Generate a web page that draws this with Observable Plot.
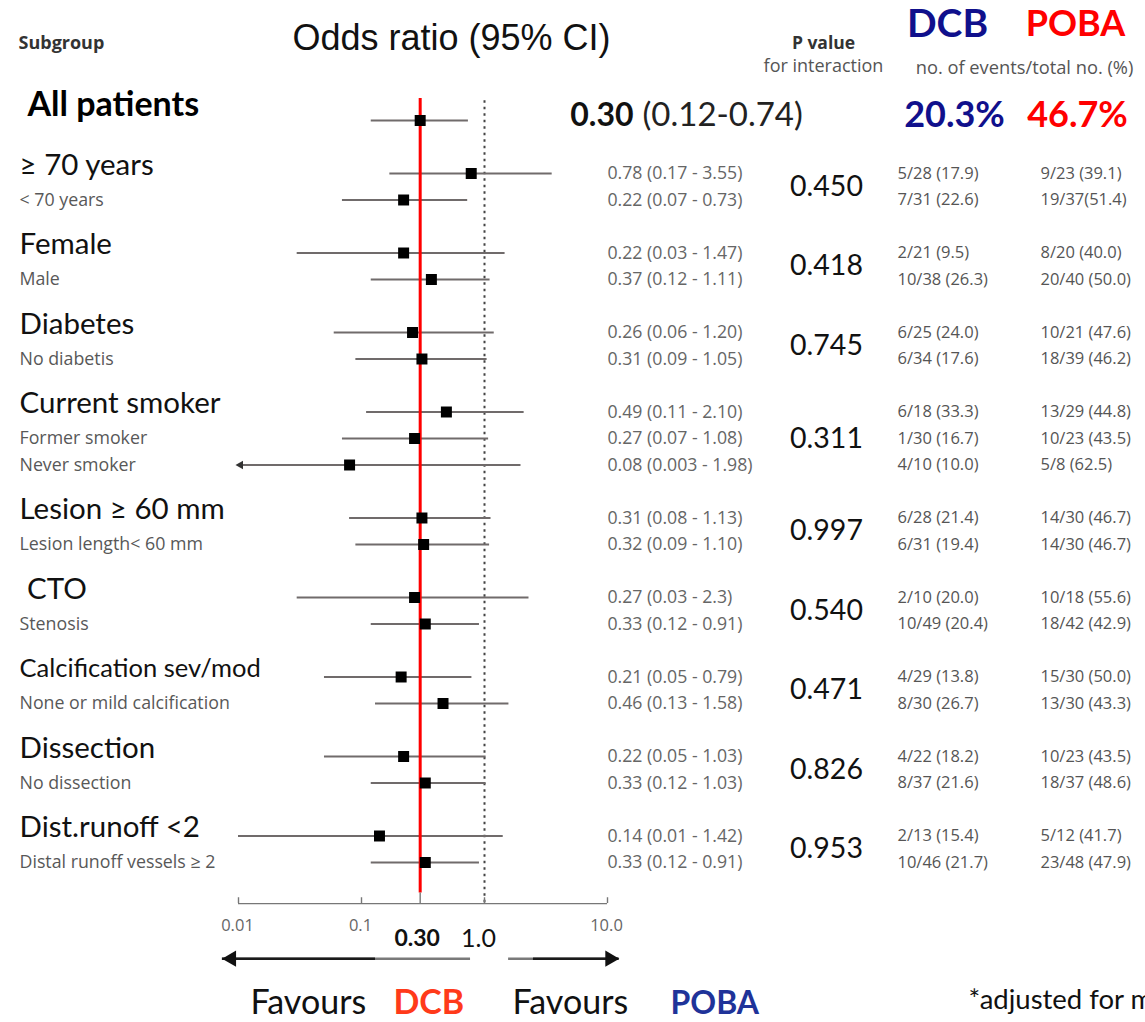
<!DOCTYPE html>
<html>
<head>
<meta charset="utf-8">
<script src="https://cdn.jsdelivr.net/npm/d3@7"></script>
<script src="https://cdn.jsdelivr.net/npm/@observablehq/plot@0.6"></script>
<style>
  body { margin: 0; background: #fff; }
  svg { display: block; }
</style>
</head>
<body>
<div id="chart"></div>
<script>
// Pooled estimate (all patients)
const overallLabel = "All patients";
const overallOR = ["0.30", "0.12", "0.74"]; // estimate, lower, upper
const overallRates = ["20.3%", "46.7%"];    // DCB, POBA

// Subgroups, in display order; groupSizes splits them into interaction groups
const subgroupLabels = [
  "≥ 70 years", "< 70 years",
  "Female", "Male",
  "Diabetes", "No diabetis",
  "Current smoker", "Former smoker", "Never smoker",
  "Lesion ≥ 60 mm", "Lesion length< 60 mm",
  " CTO", "Stenosis",
  "Calcification sev/mod", "None or mild calcification",
  "Dissection", "No dissection",
  "Dist.runoff <2", "Distal runoff vessels ≥ 2"
];
const groupSizes = [2, 2, 2, 3, 2, 2, 2, 2, 2];
const pInteraction = ["0.450", "0.418", "0.745", "0.311", "0.997", "0.540", "0.471", "0.826", "0.953"];

const oddsRatio = ["0.78", "0.22", "0.22", "0.37", "0.26", "0.31", "0.49", "0.27", "0.08", "0.31", "0.32", "0.27", "0.33", "0.21", "0.46", "0.22", "0.33", "0.14", "0.33"];
const ciLow     = ["0.17", "0.07", "0.03", "0.12", "0.06", "0.09", "0.11", "0.07", "0.003", "0.08", "0.09", "0.03", "0.12", "0.05", "0.13", "0.05", "0.12", "0.01", "0.12"];
const ciHigh    = ["3.55", "0.73", "1.47", "1.11", "1.20", "1.05", "2.10", "1.08", "1.98", "1.13", "1.10", "2.3", "0.91", "0.79", "1.58", "1.03", "1.03", "1.42", "0.91"];

const dcbEvents = ["5/28 (17.9)", "7/31 (22.6)", "2/21 (9.5)", "10/38 (26.3)", "6/25 (24.0)", "6/34 (17.6)", "6/18 (33.3)", "1/30 (16.7)", "4/10 (10.0)", "6/28 (21.4)", "6/31 (19.4)", "2/10 (20.0)", "10/49 (20.4)", "4/29 (13.8)", "8/30 (26.7)", "4/22 (18.2)", "8/37 (21.6)", "2/13 (15.4)", "10/46 (21.7)"];
const pobaEvents = ["9/23 (39.1)", "19/37(51.4)", "8/20 (40.0)", "20/40 (50.0)", "10/21 (47.6)", "18/39 (46.2)", "13/29 (44.8)", "10/23 (43.5)", "5/8 (62.5)", "14/30 (46.7)", "14/30 (46.7)", "10/18 (55.6)", "18/42 (42.9)", "15/30 (50.0)", "13/30 (43.3)", "10/23 (43.5)", "18/37 (48.6)", "5/12 (41.7)", "23/48 (47.9)"];

// Axis
const axisTicks = [0.01, 0.1, 10];
const axisTickLabels = ["0.01", "0.1", "10.0"];
const xDomain = [0.01, 10];
// "Favours" arrows below the axis, on the odds-ratio scale:
// [start, tip, where the darker stroke begins]
const favourArrows = [[0.77, 0.0074, 0.13], [1.57, 12.4, 2.5]];

// ---- build rows: overall on row 0, then groups separated by one blank row
const rows = [];
const pRows = [];
let r = 2, k = 0;
groupSizes.forEach((n, g) => {
  const start = r;
  for (let i = 0; i < n; i++, k++, r++) {
    rows.push({
      label: subgroupLabels[k], lead: i === 0, pos: r,
      orText: `${oddsRatio[k]} (${ciLow[k]} - ${ciHigh[k]})`,
      or: +oddsRatio[k], lo: +ciLow[k], hi: +ciHigh[k],
      dcb: dcbEvents[k], poba: pobaEvents[k]
    });
  }
  pRows.push({p: pInteraction[g], pos: (start + r - 1) / 2});
  r++;
});
const lastPos = r - 2;
const axisPos = lastPos + 1.55;
const arrowPos = axisPos + 2.08;
const overall = {pos: 0, or: +overallOR[0], lo: +overallOR[1], hi: +overallOR[2]};
const estimates = [overall, ...rows];
const clipped = estimates.filter(d => d.lo < xDomain[0]);
const [leftArrow, rightArrow] = favourArrows;

const sans = "Lato, 'Open Sans', sans-serif";
const small = "'Open Sans', 'Noto Sans', sans-serif";
const navy = "#10108c", red = "#ff0000";

// fixed-position annotation text
const note = (text, dx, dy, o = {}) =>
  Plot.text([text], {frameAnchor: "top-left", dx, dy, text: d => d, lineAnchor: "middle", textAnchor: "start", fontFamily: sans, fill: "#111", ...o});

const chart = Plot.plot({
  width: 1145,
  height: 1022,
  margin: 0,
  style: {background: "#fff", overflow: "hidden"},
  x: {type: "log", domain: xDomain, range: [238, 607], axis: null},
  y: {domain: [0, 28], range: [120, 862], axis: null},
  marks: [
    // reference line at OR = 1
    Plot.ruleX([1], {y1: -0.75, y2: axisPos, stroke: "#444", strokeWidth: 2, strokeDasharray: "2.5,4"}),
    // confidence intervals (lower limits below 0.01 end in an arrowhead)
    Plot.ruleY(estimates, {y: "pos", x1: d => Math.max(d.lo, xDomain[0]), x2: "hi", stroke: "#706b6b", strokeWidth: 1.8}),
    Plot.dot(clipped, {x: () => xDomain[0], y: "pos", symbol: "triangle", r: 3.2, rotate: -90, dx: 2, fill: "#333", stroke: "none"}),
    // pooled estimate line
    Plot.ruleX([overall], {x: "or", y1: -0.83, y2: axisPos - 0.4, stroke: red, strokeWidth: 3}),
    // point estimates
    Plot.dot(estimates, {x: "or", y: "pos", symbol: "square", r: 6.2, fill: "#000", stroke: "none"}),

    // x axis
    Plot.ruleY([axisPos], {x1: xDomain[0], x2: xDomain[1], stroke: "#777", strokeWidth: 1.4}),
    Plot.ruleX([...axisTicks, 1], {x: d => d, y1: axisPos - 0.22, y2: axisPos, stroke: "#777", strokeWidth: 1.4}),
    Plot.ruleX([overall], {x: "or", y1: axisPos - 0.4, y2: axisPos, stroke: "#777", strokeWidth: 1.4}),
    Plot.text(axisTicks, {x: d => d, y: axisPos + 0.83, text: (d, i) => axisTickLabels[i], fontSize: 16.5, fill: "#666", fontFamily: small, dx: -1}),
    Plot.text([overall], {x: "or", y: axisPos + 1.32, text: () => overallOR[0], fontSize: 23, fontWeight: "bold", fill: "#111", fontFamily: sans, dx: -3}),
    Plot.text([1], {x: d => d, y: axisPos + 1.32, text: () => "1.0", fontSize: 25, fill: "#111", fontFamily: sans, dx: -6}),

    // direction arrows
    Plot.ruleY(favourArrows, {y: () => arrowPos, x1: d => d[0], x2: d => d[1], stroke: "#7a7a7a", strokeWidth: 2.4}),
    Plot.ruleY(favourArrows, {y: () => arrowPos, x1: d => d[2], x2: d => d[1], stroke: "#1a1a1a", strokeWidth: 2.4}),
    Plot.dot([leftArrow], {x: d => d[1], y: () => arrowPos, symbol: "triangle", r: 6, rotate: -90, dx: 9, fill: "#111", stroke: "none"}),
    Plot.dot([rightArrow], {x: d => d[1], y: () => arrowPos, symbol: "triangle", r: 6, rotate: 90, dx: -9, fill: "#111", stroke: "none"}),

    // subgroup labels
    Plot.text([overallLabel], {frameAnchor: "left", y: 0, dx: 27, dy: -15, text: d => d, textAnchor: "start", fontSize: 34, fontWeight: "bold", fill: "#000", fontFamily: sans}),
    Plot.text(rows.filter(d => d.lead), {frameAnchor: "left", y: "pos", dx: 19, dy: -8, text: "label", textAnchor: "start",
      fontSize: d => d.label.length > 16 ? 25.5 : 29.5, fill: "#111", fontFamily: sans}),
    Plot.text(rows.filter(d => !d.lead), {frameAnchor: "left", y: "pos", dx: 19, text: "label", textAnchor: "start", fontSize: 17.8, fill: "#585858", fontFamily: small}),

    // odds ratio column
    Plot.text([overall], {frameAnchor: "left", y: "pos", dx: 633, dy: -5, text: () => overallOR[0], textAnchor: "end", fontSize: 32, fontWeight: "bold", fill: "#111", fontFamily: sans}),
    Plot.text([overall], {frameAnchor: "left", y: "pos", dx: 642, dy: -5, text: () => `(${overallOR[1]}-${overallOR[2]})`, textAnchor: "start", fontSize: 33, fill: "#222", fontFamily: sans}),
    Plot.text(rows, {frameAnchor: "left", y: "pos", dx: 607, text: "orText", textAnchor: "start", fontSize: 17.7, fill: "#666", fontFamily: small}),

    // interaction p values
    Plot.text(pRows, {frameAnchor: "left", y: "pos", dx: 826, text: "p", textAnchor: "middle", fontSize: 28.5, fill: "#111", fontFamily: sans}),

    // event counts
    Plot.text([overallRates[0]], {frameAnchor: "left", y: 0, dx: 954, dy: -5, text: d => d, textAnchor: "middle", fontSize: 36, fontWeight: "bold", fill: navy, fontFamily: sans}),
    Plot.text([overallRates[1]], {frameAnchor: "left", y: 0, dx: 1077, dy: -5, text: d => d, textAnchor: "middle", fontSize: 36, fontWeight: "bold", fill: red, fontFamily: sans}),
    Plot.text(rows, {frameAnchor: "left", y: "pos", dx: 897, text: "dcb", textAnchor: "start", fontSize: 16.5, fill: "#555", fontFamily: small}),
    Plot.text(rows, {frameAnchor: "left", y: "pos", dx: 1040, text: "poba", textAnchor: "start", fontSize: 16.5, fill: "#555", fontFamily: small}),

    // column headers
    note("Subgroup", 18, 43, {fontSize: 18, fontWeight: "bold", fill: "#333", fontFamily: small}),
    note("Odds ratio (95% CI)", 451, 38, {textAnchor: "middle", fontSize: 36, fontFamily: "'Liberation Sans', Arial, sans-serif"}),
    note("P value", 823, 43, {textAnchor: "middle", fontSize: 17.5, fontWeight: "bold", fill: "#333", fontFamily: small}),
    note("for interaction", 823, 66, {textAnchor: "middle", fontSize: 18, fill: "#555", fontFamily: small}),
    note("DCB", 947, 24, {textAnchor: "middle", fontSize: 39, fontWeight: "bold", fill: navy}),
    note("POBA", 1075, 24, {textAnchor: "middle", fontSize: 36, fontWeight: "bold", fill: red}),
    note("no. of events/total no. (%)", 1024, 68, {textAnchor: "middle", fontSize: 18.3, fill: "#555", fontFamily: small}),

    // direction labels and footnote (the footnote runs past the right edge)
    note("Favours", 250, 1003, {fontSize: 34}),
    note("DCB", 393, 1003, {fontSize: 34, fontWeight: "bold", fill: "#ff3a1a"}),
    note("Favours", 512, 1003, {fontSize: 34}),
    note("POBA", 670, 1003, {fontSize: 32, fontWeight: "bold", fill: "#1f3399"}),
    note("*adjusted for multiple comparisons", 968, 1000, {fontSize: 27.5})
  ]
});
document.getElementById("chart").append(chart);
</script>
</body>
</html>
